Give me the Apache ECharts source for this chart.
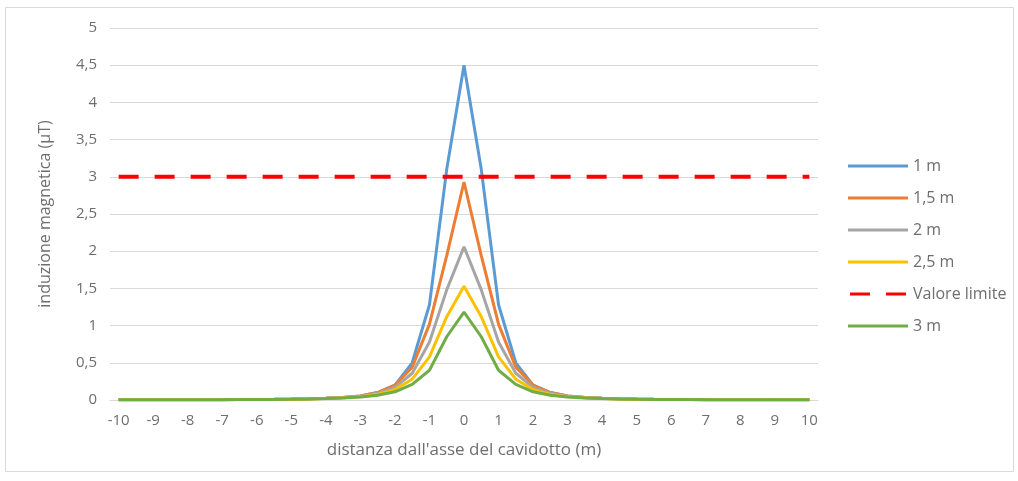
<!DOCTYPE html>
<html>
<head>
<meta charset="utf-8">
<script src="https://cdn.jsdelivr.net/npm/echarts@6/dist/echarts.min.js"></script>
<style>
html,body{margin:0;padding:0;background:#fff;}
#c{width:1018px;height:481px;}
</style>
</head>
<body>
<div id="c"></div>
<script>
// x categories: distance from cable axis (m), step 0.5
const categories = [-10,-9.5,-9,-8.5,-8,-7.5,-7,-6.5,-6,-5.5,-5,-4.5,-4,-3.5,-3,-2.5,-2,-1.5,-1,-0.5,0,0.5,1,1.5,2,2.5,3,3.5,4,4.5,5,5.5,6,6.5,7,7.5,8,8.5,9,9.5,10];

const s1m   = [0.002,0.002,0.002,0.003,0.003,0.004,0.005,0.006,0.007,0.009,0.012,0.017,0.024,0.035,0.055,0.10,0.20,0.50,1.28,3.10,4.50,3.10,1.28,0.50,0.20,0.10,0.055,0.035,0.024,0.017,0.012,0.009,0.007,0.006,0.005,0.004,0.003,0.003,0.002,0.002,0.002];
const s15m  = [0.002,0.002,0.002,0.003,0.003,0.004,0.005,0.006,0.007,0.009,0.012,0.017,0.024,0.035,0.055,0.10,0.20,0.44,1.02,1.94,2.93,1.94,1.02,0.44,0.20,0.10,0.055,0.035,0.024,0.017,0.012,0.009,0.007,0.006,0.005,0.004,0.003,0.003,0.002,0.002,0.002];
const s2m   = [0.002,0.002,0.002,0.003,0.003,0.004,0.005,0.006,0.007,0.009,0.012,0.016,0.022,0.032,0.05,0.09,0.17,0.36,0.78,1.48,2.06,1.48,0.78,0.36,0.17,0.09,0.05,0.032,0.022,0.016,0.012,0.009,0.007,0.006,0.005,0.004,0.003,0.003,0.002,0.002,0.002];
const s25m  = [0.002,0.002,0.002,0.003,0.003,0.004,0.005,0.006,0.007,0.008,0.011,0.015,0.02,0.03,0.045,0.075,0.14,0.28,0.58,1.12,1.53,1.12,0.58,0.28,0.14,0.075,0.045,0.03,0.02,0.015,0.011,0.008,0.007,0.006,0.005,0.004,0.003,0.003,0.002,0.002,0.002];
const limit = [3,3,3,3,3,3,3,3,3,3,3,3,3,3,3,3,3,3,3,3,3,3,3,3,3,3,3,3,3,3,3,3,3,3,3,3,3,3,3,3,3];
const s3m   = [0.002,0.002,0.002,0.003,0.003,0.004,0.005,0.006,0.007,0.008,0.01,0.014,0.019,0.027,0.04,0.065,0.11,0.21,0.40,0.85,1.18,0.85,0.40,0.21,0.11,0.065,0.04,0.027,0.019,0.014,0.01,0.008,0.007,0.006,0.005,0.004,0.003,0.003,0.002,0.002,0.002];

const seriesNames = ['1 m','1,5 m','2 m','2,5 m','Valore limite','3 m'];
const yTicks = [0,0.5,1,1.5,2,2.5,3,3.5,4,4.5,5];

const font = 'Open Sans';
const txt = '#6e6e6e';

const solidIcon = 'path://M0,0H60V3H0Z';
const dashIcon = 'path://M0,0H20V3H0ZM36,0H56V3H36Z';

function line(name, data, color, dashed) {
  return {
    name: name, type: 'line', data: data, symbol: 'none', smooth: false,
    lineStyle: {color: color, width: dashed ? 4 : 3, type: dashed ? [20, 16] : 'solid', cap: 'butt'},
    itemStyle: {color: color},
    emphasis: {disabled: true},
    animation: false
  };
}

const chart = echarts.init(document.getElementById('c'), null, {renderer: 'canvas'});
chart.setOption({
  backgroundColor: '#fff',
  animation: false,
  graphic: [{
    type: 'rect', shape: {x: 5.5, y: 7.5, width: 1008, height: 464},
    style: {fill: 'none', stroke: '#d9d9d9', lineWidth: 1}, silent: true, z: -1
  }],
  grid: {left: 110, right: 200, top: 28, bottom: 81, containLabel: false},
  legend: {
    orient: 'vertical', left: 843, top: 150, itemWidth: 60, itemHeight: 3, itemGap: 10,
    textStyle: {color: txt, fontFamily: font, fontSize: 16, lineHeight: 22},
    data: seriesNames.map((n, i) => ({name: n, icon: i === 4 ? dashIcon : solidIcon}))
  },
  xAxis: {
    type: 'category', data: categories, boundaryGap: true,
    name: "distanza dall'asse del cavidotto (m)", nameLocation: 'middle', nameGap: 42,
    nameTextStyle: {color: txt, fontFamily: font, fontSize: 17},
    axisLine: {show: true, lineStyle: {color: '#d9d9d9'}},
    axisTick: {show: false},
    axisLabel: {color: txt, fontFamily: font, fontSize: 15, margin: 13, interval: 1,
      formatter: v => String(v).replace('.', ',')},
    splitLine: {show: false}
  },
  yAxis: {
    type: 'value', min: 0, max: 5, interval: 0.5,
    name: 'induzione magnetica (μT)', nameLocation: 'middle', nameGap: 57,
    nameTextStyle: {color: txt, fontFamily: font, fontSize: 16},
    axisLine: {show: false}, axisTick: {show: false},
    axisLabel: {color: txt, fontFamily: font, fontSize: 15, margin: 13,
      formatter: v => yTicks.indexOf(v) >= 0 ? String(v).replace('.', ',') : ''},
    splitLine: {lineStyle: {color: '#d9d9d9', width: 1}}
  },
  series: [
    line('1 m', s1m, '#5B9BD5'),
    line('1,5 m', s15m, '#ED7D31'),
    line('2 m', s2m, '#A5A5A5'),
    line('2,5 m', s25m, '#FFC000'),
    line('Valore limite', limit, '#FF0000', true),
    line('3 m', s3m, '#70AD47')
  ]
});
</script>
</body>
</html>
